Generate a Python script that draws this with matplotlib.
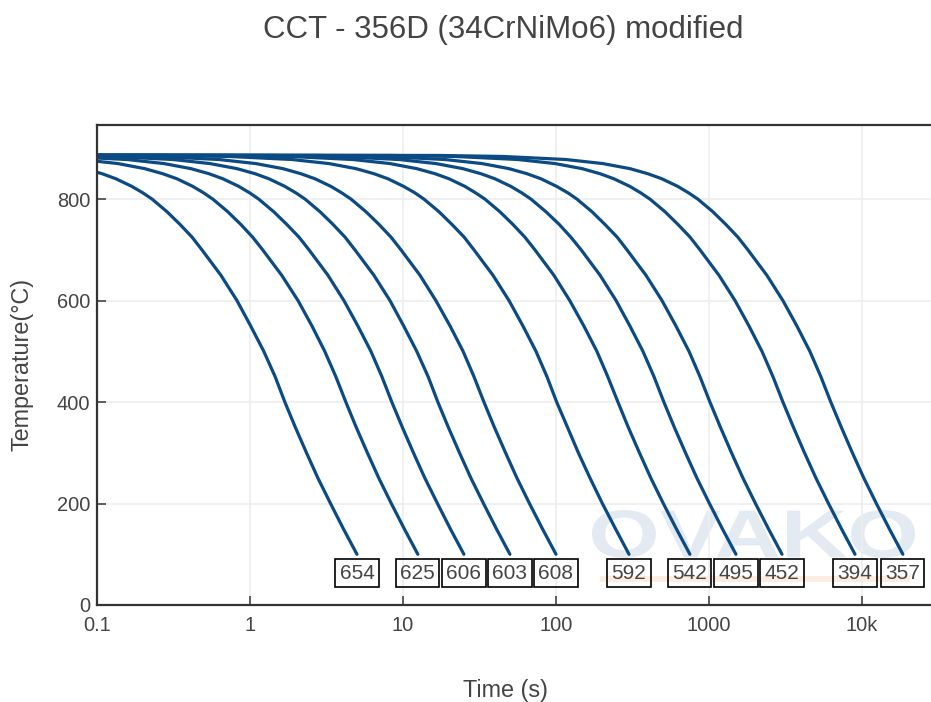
import matplotlib
matplotlib.use('Agg')
import matplotlib.pyplot as plt
import matplotlib.transforms as mtransforms
from matplotlib.textpath import TextPath
from matplotlib.patches import PathPatch, Rectangle
from matplotlib.font_manager import FontProperties

# temperature levels (C) shared by every cooling curve
temps = [887, 886, 884, 878, 870, 860, 850, 840, 825, 812, 800, 775, 750, 725, 700,
         650, 600, 550, 500, 450, 400, 350, 300, 250, 200, 150, 100]

# time (s) at which each curve reaches the levels above
t_654 = [0.001, 0.00464, 0.0122, 0.0314, 0.0547, 0.0822, 0.108, 0.133, 0.169, 0.200, 0.229, 0.287, 0.349,
         0.418, 0.485, 0.645, 0.822, 1.01, 1.23, 1.46, 1.69, 1.98, 2.34, 2.78, 3.36, 4.08, 5.0]
t_625 = [0.001, 0.0116, 0.0304, 0.0784, 0.137, 0.205, 0.269, 0.333, 0.423, 0.499, 0.571, 0.716, 0.871,
         1.04, 1.21, 1.61, 2.06, 2.54, 3.08, 3.64, 4.23, 4.95, 5.85, 6.95, 8.39, 10.2, 12.5]
t_606 = [0.001, 0.0232, 0.0608, 0.157, 0.274, 0.411, 0.539, 0.665, 0.845, 0.998, 1.14, 1.43, 1.74,
         2.09, 2.43, 3.23, 4.11, 5.07, 6.17, 7.28, 8.45, 9.91, 11.7, 13.9, 16.8, 20.4, 25]
t_603 = [0.001, 0.0464, 0.122, 0.314, 0.547, 0.822, 1.08, 1.33, 1.69, 2.00, 2.29, 2.87, 3.49,
         4.18, 4.85, 6.45, 8.22, 10.1, 12.3, 14.6, 16.9, 19.8, 23.4, 27.8, 33.6, 40.8, 50]
t_608 = [0.001, 0.0927, 0.243, 0.627, 1.09, 1.64, 2.15, 2.66, 3.38, 3.99, 4.57, 5.73, 6.97,
         8.35, 9.70, 12.9, 16.4, 20.3, 24.7, 29.1, 33.8, 39.6, 46.8, 55.6, 67.1, 81.6, 100]
t_592 = [0.001, 0.278, 0.729, 1.88, 3.28, 4.93, 6.46, 7.98, 10.1, 12.0, 13.7, 17.2, 20.9,
         25.1, 29.1, 38.7, 49.3, 60.8, 74.0, 87.3, 101, 119, 140, 167, 201, 245, 300]
t_542 = [0.001, 0.695, 1.82, 4.70, 8.21, 12.3, 16.2, 20.0, 25.4, 29.9, 34.3, 43.0, 52.3,
         62.6, 72.8, 96.8, 123, 152, 185, 218, 254, 297, 351, 417, 503, 612, 750]
t_495 = [0.001, 1.39, 3.65, 9.41, 16.4, 24.6, 32.3, 39.9, 50.7, 59.9, 68.6, 86.0, 105,
         125, 146, 194, 247, 304, 370, 437, 507, 594, 702, 834, 1007, 1224, 1500]
t_452 = [0.001, 2.78, 7.29, 18.8, 32.8, 49.3, 64.6, 79.8, 101, 120, 137, 172, 209,
         251, 291, 387, 493, 608, 740, 873, 1014, 1189, 1403, 1668, 2013, 2448, 3000]
t_394 = [0.001, 8.34, 21.9, 56.4, 98.5, 148, 194, 239, 304, 359, 411, 516, 627,
         752, 873, 1161, 1480, 1825, 2219, 2619, 3042, 3567, 4209, 5004, 6040, 7345, 9000]
t_357 = [0.001, 17.1, 45.0, 116, 202, 304, 398, 492, 625, 738, 845, 1060, 1289,
         1545, 1795, 2387, 3041, 3752, 4562, 5384, 6253, 7332, 8652, 10286, 12415, 15098, 18500]

curves = [t_654, t_625, t_606, t_603, t_608, t_592, t_542, t_495, t_452, t_394, t_357]
hardness = ['654', '625', '606', '603', '608', '592', '542', '495', '452', '394', '357']
label_temp = 63

x_ticks = [0.1, 1, 10, 100, 1000, 10000]
x_tick_labels = ['0.1', '1', '10', '100', '1000', '10k']
y_ticks = [0, 200, 400, 600, 800]

text_col = '#444444'
line_col = '#0b4a83'
plt.rcParams['font.family'] = ['Liberation Sans', 'DejaVu Sans']

fig = plt.figure(figsize=(9.31, 7.02), dpi=100)
ax = fig.add_axes([97 / 931, 1 - 605 / 702, 1 - 97 / 931, (605 - 125) / 702])

# faint OVAKO watermark behind the curves
tp = TextPath((0, 0), 'OVAKO', size=1, prop=FontProperties(family='Liberation Sans', weight='bold'))
bb = tp.get_extents()
wm_tr = (mtransforms.Affine2D().translate(-bb.x0, -bb.y0)
         .scale(323 / 931 / bb.width, 48 / 702 / bb.height)
         .translate(592 / 931, 1 - 558 / 702)) + fig.transFigure
ax.add_patch(PathPatch(tp, transform=wm_tr, facecolor='#e3eaf2', edgecolor='none', zorder=0.5))
ax.add_patch(Rectangle((600 / 931, 1 - 582 / 702), 310 / 931, 6 / 702, transform=fig.transFigure,
                       facecolor='#fdece0', edgecolor='none', zorder=0.5))

for times, hv in zip(curves, hardness):
    ax.plot(times, temps, color=line_col, lw=2.3, solid_capstyle='round', solid_joinstyle='round', zorder=2)
    ax.text(times[-1], label_temp, hv, ha='center', va='center', fontsize=15, color=text_col,
            bbox=dict(boxstyle='square,pad=0.2', facecolor='none', edgecolor='black', lw=1.2), zorder=3)

ax.set_xscale('log')
ax.set_xlim(0.1, 28250)
ax.set_ylim(0, 946)
ax.set_xticks(x_ticks)
ax.set_xticklabels(x_tick_labels)
ax.minorticks_off()
ax.set_yticks(y_ticks)
ax.grid(True, color='#eeeeee', lw=1.2, zorder=0)
ax.set_axisbelow(True)
ax.tick_params(direction='in', length=6.5, width=1.2, color=text_col, labelcolor=text_col,
               labelsize=14.4, pad=5)
ax.tick_params(axis='x', pad=8)
for side in ['left', 'bottom', 'top']:
    ax.spines[side].set_color('#333333')
    ax.spines[side].set_linewidth(1.6)
ax.spines['right'].set_visible(False)

fig.text(503 / 931, 1 - 30 / 702, 'CCT - 356D (34CrNiMo6) modified', ha='center', va='center',
         fontsize=22.5, color=text_col)
fig.text(505 / 931, 1 - 690 / 702, 'Time (s)', ha='center', va='center', fontsize=16.8, color=text_col)
fig.text(22 / 931, 1 - 364 / 702, 'Temperature(°C)', ha='center', va='center', rotation=90,
         fontsize=16.8, color=text_col)

fig.savefig('out.png', dpi=100)
